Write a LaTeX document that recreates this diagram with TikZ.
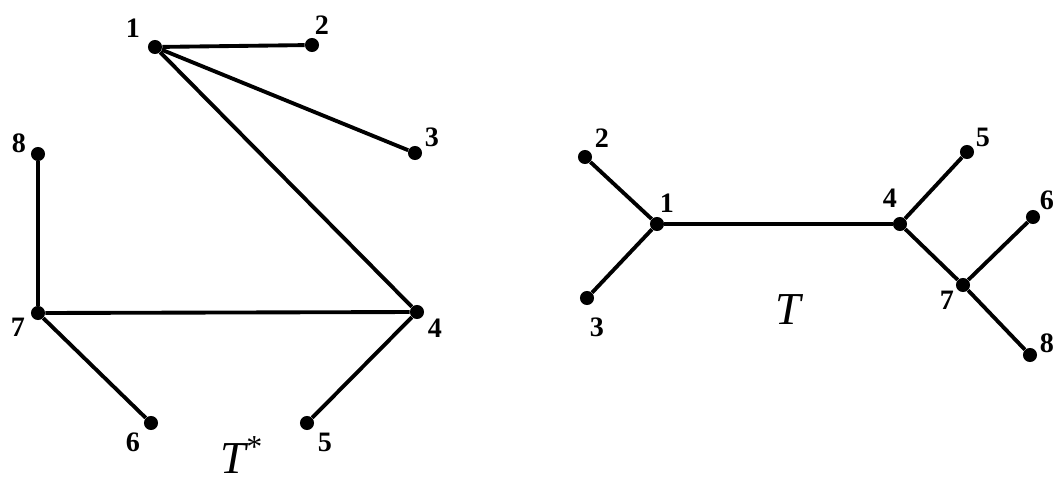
\documentclass[tikz,border=0pt]{standalone}
\usepackage{fontspec}
\setmainfont{Liberation Serif}
\tikzset{
  vertex/.style={circle,fill=black,inner sep=0pt,minimum size=8pt},
  num/.style={font=\bfseries\fontsize{16}{16}\selectfont,inner sep=0pt},
  tname/.style={font=\itshape\fontsize{26}{26}\selectfont,inner sep=0pt},
  edge/.style={line width=2.2pt}
}
\begin{document}
\begin{tikzpicture}[x=0.02cm,y=-0.02cm]
      \useasboundingbox (0,0) rectangle (1057,484);
      % T* (left)
      \draw
        (155,47) node[vertex] (a1){}
        (312,45) node[vertex] (a2){}
        (415,153) node[vertex] (a3){}
        (417,312) node[vertex] (a4){}
        (307,423) node[vertex] (a5){}
        (151,423) node[vertex] (a6){}
        (38,313) node[vertex] (a7){}
        (38,154) node[vertex] (a8){};
      \draw
        (133,28) node[num] (la1){1}
        (322,25) node[num] (la2){2}
        (432,137) node[num] (la3){3}
        (435,328) node[num] (la4){4}
        (325,442) node[num] (la5){5}
        (133,442) node[num] (la6){6}
        (18,327) node[num] (la7){7}
        (19,143) node[num] (la8){8};
      \node[tname,anchor=base] (tstar) at (242,473) {T\textsuperscript{\upshape *}};
      \begin{scope}[edge]
        \draw (a1) to (a2);
        \draw (a1) to (a3);
        \draw (a1) to (a4);
        \draw (a8) to (a7);
        \draw (a7) to (a4);
        \draw (a7) to (a6);
        \draw (a4) to (a5);
      \end{scope}
      % T (right)
      \draw
        (657,224) node[vertex] (b1){}
        (585,157) node[vertex] (b2){}
        (587,298) node[vertex] (b3){}
        (900,224) node[vertex] (b4){}
        (967,152) node[vertex] (b5){}
        (1033,217) node[vertex] (b6){}
        (963,285) node[vertex] (b7){}
        (1030,355) node[vertex] (b8){};
      \draw
        (667,203) node[num] (lb1){1}
        (602,138) node[num] (lb2){2}
        (597,327) node[num] (lb3){3}
        (890,198) node[num] (lb4){4}
        (983,137) node[num] (lb5){5}
        (1047,200) node[num] (lb6){6}
        (947,300) node[num] (lb7){7}
        (1047,343) node[num] (lb8){8};
      \node[tname] (t) at (788,310) {T};
      \begin{scope}[edge]
        \draw (b2) to (b1);
        \draw (b1) to (b3);
        \draw (b1) to (b4);
        \draw (b4) to (b5);
        \draw (b4) to (b7);
        \draw (b7) to (b6);
        \draw (b7) to (b8);
      \end{scope}
    \end{tikzpicture}
\end{document}
